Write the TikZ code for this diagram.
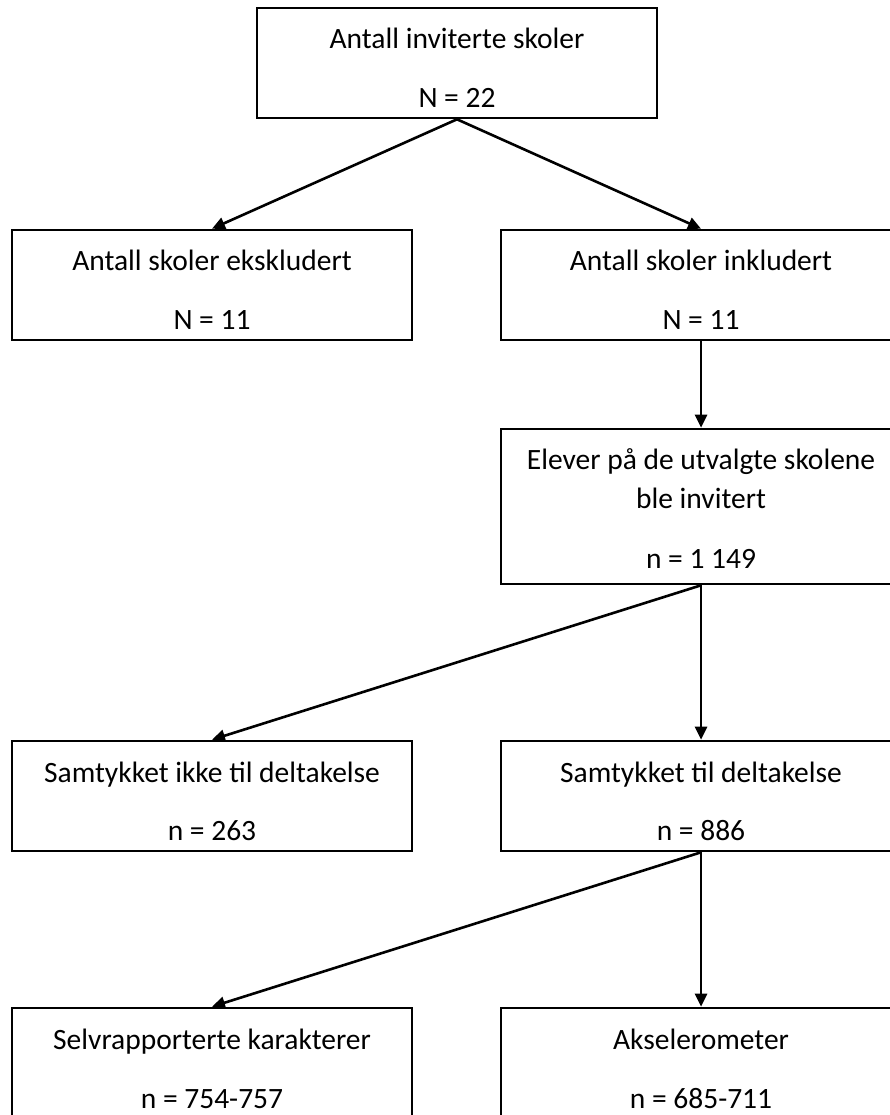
\documentclass[tikz,border=0pt]{standalone}
\usepackage{fontspec}
\setmainfont{Carlito}
\usetikzlibrary{arrows.meta,calc}
\begin{document}
\begin{tikzpicture}[x=1pt,y=-1pt,
  box/.style={draw=black,line width=2.6pt,rectangle,minimum width=400pt,minimum height=110pt,inner sep=0pt},
  txt/.style={anchor=base,inner sep=0pt,font=\fontsize{29.5}{35}\selectfont,text=black},
  arr/.style={draw=black,line width=2.6pt,-{Triangle[length=13pt,width=12pt]},shorten >=0pt}]
\useasboundingbox (0,0) rectangle (890,1115);
\clip (0,0) rectangle (890,1115);
% boxes
\node[box] (top) at (457,63) {};
\node[box] (exc) at (212,285) {};
\node[box] (inc) at (701,285) {};
\node[box,minimum height=155pt] (elev) at (701,506.5) {};
\node[box] (nocon) at (212,796) {};
\node[box] (con) at (701,796) {};
\node[box] (self) at (212,1063) {};
\node[box] (acc) at (701,1063) {};
% texts
\node[txt] (topa) at ($(top.north)+(0,42)$) {Antall inviterte skoler};
\node[txt] (topb) at ($(top.north)+(0,101)$) {N = 22};
\node[txt] (exca) at ($(exc.north)+(0,42)$) {Antall skoler ekskludert};
\node[txt] (excb) at ($(exc.north)+(0,101)$) {N = 11};
\node[txt] (inca) at ($(inc.north)+(0,42)$) {Antall skoler inkludert};
\node[txt] (incb) at ($(inc.north)+(0,101)$) {N = 11};
\node[txt] (eleva) at ($(elev.north)+(0,42)$) {Elever på de utvalgte skolene};
\node[txt] (elevb) at ($(elev.north)+(0,81)$) {ble invitert};
\node[txt] (elevc) at ($(elev.north)+(0,141)$) {n = 1 149};
\node[txt] (nocona) at ($(nocon.north)+(0,43)$) {Samtykket ikke til deltakelse};
\node[txt] (noconb) at ($(nocon.north)+(0,101)$) {n = 263};
\node[txt] (cona) at ($(con.north)+(0,43)$) {Samtykket til deltakelse};
\node[txt] (conb) at ($(con.north)+(0,101)$) {n = 886};
\node[txt] (selfa) at ($(self.north)+(0,43)$) {Selvrapporterte karakterer};
\node[txt] (selfb) at ($(self.north)+(0,102)$) {n = 754-757};
\node[txt] (acca) at ($(acc.north)+(0,43)$) {Akselerometer};
\node[txt] (accb) at ($(acc.north)+(0,102)$) {n = 685-711};
% connectors
\draw[arr] (top.south) -- (exc.north);
\draw[arr] (top.south) -- (inc.north);
\draw[arr] (inc.south) -- (elev.north);
\draw[arr] (elev.south) -- (nocon.north);
\draw[arr] (elev.south) -- (con.north);
\draw[arr] (con.south) -- (self.north);
\draw[arr] (con.south) -- (acc.north);
\end{tikzpicture}
\end{document}
